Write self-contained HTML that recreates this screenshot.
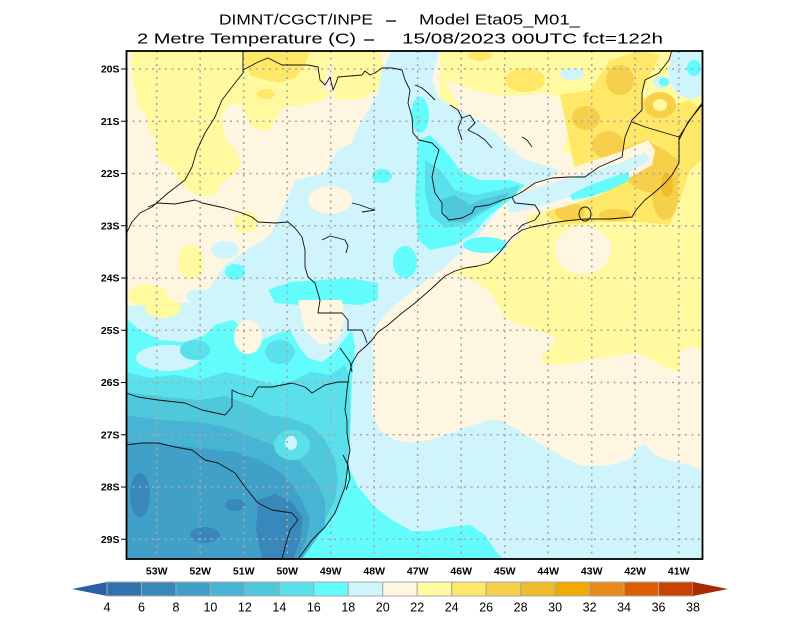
<!DOCTYPE html>
<html><head><meta charset="utf-8"><style>html,body{margin:0;padding:0;background:#fff}svg{display:block}</style></head>
<body>
<svg width="800" height="618" viewBox="0 0 800 618" xmlns="http://www.w3.org/2000/svg">
<rect width="800" height="618" fill="#fff"/>
<!-- Title -->
<g font-family="'Liberation Sans', sans-serif" font-size="15" fill="#000">
<text x="219" y="24.5" textLength="154" lengthAdjust="spacingAndGlyphs">DIMNT/CGCT/INPE</text>
<text x="419" y="24.5" textLength="161" lengthAdjust="spacingAndGlyphs">Model Eta05_M01_</text>
<text x="137" y="43.5" textLength="219" lengthAdjust="spacingAndGlyphs">2 Metre Temperature (C)</text>
<text x="402" y="43.5" textLength="261" lengthAdjust="spacingAndGlyphs">15/08/2023 00UTC fct=122h</text>
</g>
<line x1="386" y1="21" x2="396" y2="21" stroke="#000" stroke-width="1.3"/>
<line x1="364" y1="40" x2="374" y2="40" stroke="#000" stroke-width="1.3"/>

<defs><clipPath id="mc"><rect x="126.5" y="51" width="576" height="508"/></clipPath></defs>
<g clip-path="url(#mc)">
<rect x="120" y="45" width="590" height="520" fill="#fff6e2"/>
<!-- top-left light yellow -->
<polygon fill="#fffaa0" points="131.7,50 331.7,50 328.3,70 321.7,86.7 331.7,93.3 325,100 305,105 285,106.7 276.7,116.7 271.7,128.3 261.7,131.7 250,125 245,113.3 241.7,105 228.3,105 221.7,116.7 225,136.7 235,150 241.7,163.3 235,173.3 221.7,183.3 216.7,193.3 201.7,196.7 188.3,190 178.3,180 171.7,166.7 158.3,160 155,140 148.3,126.7 145,113.3 138.3,108.3 135,90 131.7,70"/>
<polygon fill="#fffaa0" points="331,51 380,51 385,70 378,90 360,100 335,100"/>
<ellipse cx="191" cy="262" rx="13" ry="18" fill="#fffaa0"/>
<ellipse cx="148" cy="296" rx="20" ry="12" fill="#fffaa0"/>
<ellipse cx="246" cy="222" rx="12" ry="11" fill="#fffaa0"/>
<polygon fill="#ffe868" points="243,51 310,51 305,65 295,78 280,83 265,80 250,75 245,65"/>
<ellipse cx="266" cy="94" rx="9" ry="5" fill="#ffe868"/>
<!-- top-right light yellow land + ocean -->
<polygon fill="#fffaa0" points="440,51 702,51 702,350 690,346 680,352 679,372 665,368 650,358 635,353 610,357 590,360 560,365 542,363 542,355 553,345 555,337 545,333 520,325 505,318 498,305 490,292 478,283 462,276 450,274 460,268 480,265 500,255 520,235 530,225 520,200 470,180 440,120"/>
<polygon fill="#fff6e2" points="445,80 472,90 505,97 545,93 565,100 569,133 562,150 579,160 599,163 612,157 599,170 569,177 545,173 522,160 499,140 462,113"/>
<ellipse cx="583" cy="250" rx="28" ry="24" fill="#fff6e2"/>
<ellipse cx="480" cy="55" rx="12" ry="6" fill="#ffe868"/>
<ellipse cx="525" cy="80" rx="20" ry="12" fill="#ffe868"/>
<polygon fill="#ffe868" points="560,95 590,90 610,60 640,51 660,55 650,75 640,95 660,110 690,100 702,110 702,160 690,170 680,200 670,225 640,222 600,222 560,225 545,215 550,200 580,190 610,178 640,162 650,150 630,150 605,165 575,170 570,145 565,120"/>
<ellipse cx="586" cy="118" rx="14" ry="12" fill="#f6d04a"/>
<ellipse cx="608" cy="145" rx="16" ry="14" fill="#f6d04a"/>
<polygon fill="#f6d04a" points="620,150 645,140 665,150 678,160 678,185 660,195 640,190 625,180"/>
<ellipse cx="665" cy="195" rx="13" ry="25" fill="#f6d04a"/>
<ellipse cx="570" cy="212" rx="15" ry="9" fill="#f6d04a"/>
<ellipse cx="615" cy="215" rx="16" ry="6" fill="#f6d04a"/>
<ellipse cx="620" cy="80" rx="14" ry="15" fill="#f6d04a"/>
<ellipse cx="660" cy="105" rx="16" ry="13" fill="#f6d04a"/>
<ellipse cx="660" cy="105" rx="7" ry="6" fill="#fffaa0"/>
<ellipse cx="667" cy="185" rx="6" ry="12" fill="#f0bc2c"/>
<!-- top-right light cyan blobs -->
<polygon fill="#d0f4fc" points="672,51 702,51 702,95 690,100 675,92 668,75"/>
<ellipse cx="662" cy="82" rx="9" ry="6" fill="#d0f4fc"/>
<ellipse cx="664" cy="82" rx="5" ry="4" fill="#62fcfc"/>
<ellipse cx="694" cy="68" rx="7" ry="8" fill="#62fcfc"/>
<ellipse cx="572" cy="74" rx="12" ry="6" fill="#d0f4fc"/>
<!-- valley -->
<polygon fill="#fff6e2" points="500,195 540,178 580,165 620,152 648,140 655,150 652,165 625,180 600,195 570,205 540,213 510,220"/>
<polygon fill="#d0f4fc" points="505,200 530,190 560,180 590,172 620,163 645,152 650,160 630,172 605,183 585,192 560,200 535,208 510,213"/>
<polygon fill="#62fcfc" points="570,195 590,185 610,178 628,172 630,180 610,190 590,197 572,200"/>
<!-- big light cyan -->
<polygon fill="#d0f4fc" points="392,51 440,51 436,63 432,80 438,97 455,108 475,118 495,132 510,148 525,160 552,167 560,172 545,180 522,188 505,200 495,215 485,228 475,240 460,253 445,267 425,282 410,293 395,305 383,318 374,330 372,350 375,365 373,380 372,395 372,415 380,430 395,440 412,443 430,440 450,433 470,426 490,420 500,420 515,428 530,438 548,448 565,458 580,465 595,466 610,465 630,459 638,446 645,445 655,455 668,460 690,465 702,470 702,559 126,559 126,306 168,304 190,302 205,295 215,280 225,265 240,255 255,245 270,235 282,210 288,197 295,180 325,173 332,160 338,150 352,143 358,127 378,93 382,70"/>
<ellipse cx="225" cy="250" rx="14" ry="9" fill="#d0f4fc"/>
<ellipse cx="200" cy="296" rx="14" ry="7" fill="#d0f4fc"/>
<ellipse cx="330" cy="200" rx="22" ry="14" fill="#fff6e2"/>
<ellipse cx="163" cy="308" rx="18" ry="10" fill="#fffaa0"/>
<!-- cyan patches north -->
<polygon fill="#62fcfc" points="268,290 290,282 320,280 350,278 378,283 378,300 360,305 330,303 300,305 275,303"/>
<ellipse cx="235" cy="272" rx="10" ry="8" fill="#62fcfc"/>
<ellipse cx="405" cy="262" rx="12" ry="16" fill="#62fcfc"/>
<ellipse cx="382" cy="176" rx="10" ry="7" fill="#62fcfc"/>
<ellipse cx="420" cy="115" rx="9" ry="18" fill="#62fcfc"/>
<polygon fill="#62fcfc" points="418,140 430,135 445,150 460,170 480,180 510,180 525,185 510,200 490,215 475,232 455,245 430,250 418,240 415,200"/>
<ellipse cx="485" cy="245" rx="22" ry="8" fill="#62fcfc"/>
<polygon fill="#5ae0ea" points="425,160 440,170 455,190 475,195 500,190 520,185 515,195 495,205 480,215 465,225 445,228 430,215 425,190"/>
<polygon fill="#50c8dc" points="440,200 455,195 470,205 480,200 500,195 510,193 500,203 480,212 465,222 448,222"/>
<!-- southern blues -->
<polygon fill="#62fcfc" points="126,318 140,330 160,340 185,342 205,335 215,325 232,320 248,330 262,340 278,333 290,330 298,345 308,358 322,362 335,352 345,338 352,330 355,345 352,380 350,440 345,460 358,487 375,507 392,520 412,531 430,531 450,527 470,525 485,535 495,550 503,559 126,559"/>
<ellipse cx="168" cy="358" rx="32" ry="13" fill="#d0f4fc"/>
<ellipse cx="248" cy="337" rx="14" ry="17" fill="#fff6e2"/>
<polygon fill="#fff6e2" points="298,300 342,300 345,320 338,340 320,345 305,330"/>
<ellipse cx="195" cy="350" rx="15" ry="10" fill="#5ae0ea"/>
<ellipse cx="280" cy="352" rx="15" ry="12" fill="#5ae0ea"/>
<polygon fill="#5ae0ea" points="126,372 150,378 175,375 200,380 225,372 250,378 275,385 295,380 310,372 330,375 345,365 350,380 350,440 348,470 345,490 338,510 325,528 312,545 302,559 126,559"/>
<polygon fill="#50c8dc" points="126,392 150,395 175,398 200,400 225,396 250,405 270,415 290,418 310,425 325,440 335,460 338,480 335,500 325,520 312,540 300,559 126,559"/>
<polygon fill="#48b4d4" points="126,415 160,420 200,422 230,428 255,438 280,448 300,462 315,480 325,500 325,525 312,545 302,559 126,559"/>
<polygon fill="#40a0c8" points="126,442 160,444 200,448 235,452 260,460 280,472 292,485 302,500 310,520 306,540 298,559 126,559"/>
<polygon fill="#3888bc" points="258,500 275,494 292,502 303,518 300,540 293,559 262,559 256,530"/>
<ellipse cx="140" cy="495" rx="10" ry="22" fill="#3888bc"/>
<ellipse cx="205" cy="535" rx="15" ry="8" fill="#3888bc"/>
<ellipse cx="235" cy="505" rx="10" ry="6" fill="#3888bc"/>
<ellipse cx="292" cy="445" rx="18" ry="15" fill="#5ae0ea"/>
<ellipse cx="291" cy="443" rx="6" ry="7" fill="#d0f4fc"/>

<!-- gridlines -->
<g stroke="#a8a8a8" stroke-width="1.6" stroke-dasharray="2 4.5" fill="none">
<path d="M156.7 51V559M200.2 51V559M243.7 51V559M287.2 51V559M330.7 51V559M374.2 51V559M417.7 51V559M461.2 51V559M504.7 51V559M548.2 51V559M591.7 51V559M635.2 51V559M678.7 51V559"/>
<path d="M126 69H702M126 121.25H702M126 173.5H702M126 225.75H702M126 278H702M126 330.25H702M126 382.5H702M126 434.75H702M126 487H702M126 539.25H702"/>
</g>

<!-- coast and borders -->
<g stroke="#111" stroke-width="0.9" fill="none" stroke-linejoin="round">
<polyline points="298,559 312,540 325,527 335,513 340,500 345,487 347,473 348,460 350,450 348,440 347,433 347,420 345,410 346,400 347,390 348,383 349,375 352,363 358,353 365,347 372,340 378,332 388,325 402,313 415,303 430,290 445,276 455,271 465,268 478,266 489,263 500,252 507,243 512,237 522,230 532,227 542,225 552,223 565,221 585,219 610,219 632,217 636,210 645,200 655,192 665,183 672,175 679,163 679,140 688,122 702,105"/>
<polyline points="243,51 243,73 235,83 222,100 215,117 205,133 197,150 192,167 185,180 168,193 152,207 140,213 132,222 127,232 126,240"/>
<polyline points="243,70 258,62 268,58 282,65 308,65 318,67 320,80 325,85 330,77 333,90 336,83 338,77 362,75 365,71 370,75 375,73 382,68 392,68 402,70 405,80 410,90 408,103 412,117 413,133 419,140 432,143 439,150 435,163 432,177 435,193 442,203 442,213 449,220 462,218 472,213 475,207 489,205 502,200 512,197 522,192 535,183 552,178 569,177 585,177 599,167 622,157 625,137 632,120 642,110 642,93 645,80 659,73 669,60 672,50"/>
<polyline points="632,122 645,127 679,137 692,117 702,103"/>
<polyline points="679,137 679,163"/>
<polyline points="512,197 515,203 535,205 540,213 535,220 522,225 518,230"/>
<polyline points="148,207 158,203 175,204 195,200 202,203 225,208 242,213 252,217 258,222 275,223 288,222 295,228 302,237 305,250 305,267 308,277 315,283 320,300 318,313 325,313 342,313 348,320 348,330 362,330 365,337 367,343"/>
<polyline points="126,393 138,397 158,400 185,403 202,410 225,415 232,407 232,390 238,393 252,397 258,387 272,387 292,383 305,387 312,393 325,385 338,382 348,382"/>
<polyline points="126,445 142,443 158,443 175,447 192,450 205,460 218,463 235,473 245,487 258,503 272,510 292,513 298,520 290,530 285,547 282,559"/>
<polyline points="450,105 458,110 462,118 470,115 475,123 468,130 478,135 485,140 492,148"/>
<polyline points="462,118 458,128 462,140"/>
<polyline points="415,85 422,88 428,93 435,100"/>
<polyline points="522,137 527,140 532,147"/>
<polyline points="352,203 360,205 368,208 375,210 362,212"/>
<polyline points="322,240 330,236 338,238 345,240 348,246 346,253"/>
<ellipse cx="585" cy="214" rx="6" ry="7"/>
<polyline points="340,348 345,355 350,362 352,372"/>
<polyline points="343,455 348,465 350,478 346,490"/>
</g>
</g>
<!-- frame -->
<rect x="126.5" y="51" width="576" height="508" fill="none" stroke="#000" stroke-width="1.8"/>
<!-- left ticks -->
<path d="M121 69H126M121 121.25H126M121 173.5H126M121 225.75H126M121 278H126M121 330.25H126M121 382.5H126M121 434.75H126M121 487H126M121 539.25H126" stroke="#000" stroke-width="1"/>
<g font-family="'Liberation Sans', sans-serif" font-size="10.5" font-weight="bold" fill="#000" text-anchor="end">
<text x="119.5" y="72.7">20S</text>
<text x="119.5" y="124.9">21S</text>
<text x="119.5" y="177.2">22S</text>
<text x="119.5" y="229.4">23S</text>
<text x="119.5" y="281.7">24S</text>
<text x="119.5" y="333.9">25S</text>
<text x="119.5" y="386.2">26S</text>
<text x="119.5" y="438.4">27S</text>
<text x="119.5" y="490.7">28S</text>
<text x="119.5" y="542.9">29S</text>
</g>
<g font-family="'Liberation Sans', sans-serif" font-size="10.5" font-weight="bold" fill="#000" text-anchor="middle">
<text x="156.7" y="574.5">53W</text>
<text x="200.2" y="574.5">52W</text>
<text x="243.7" y="574.5">51W</text>
<text x="287.2" y="574.5">50W</text>
<text x="330.7" y="574.5">49W</text>
<text x="374.2" y="574.5">48W</text>
<text x="417.7" y="574.5">47W</text>
<text x="461.2" y="574.5">46W</text>
<text x="504.7" y="574.5">45W</text>
<text x="548.2" y="574.5">44W</text>
<text x="591.7" y="574.5">43W</text>
<text x="635.2" y="574.5">42W</text>
<text x="678.7" y="574.5">41W</text>
</g>
<!-- colorbar -->
<g stroke="#a8a8a8" stroke-width="1">
<polygon points="72,589 107,582 107,596" fill="#2a5ea5" stroke="none"/>
<rect x="107" y="582" width="34.47" height="14" fill="#2e72ae"/>
<rect x="141.47" y="582" width="34.47" height="14" fill="#3888bc"/>
<rect x="175.94" y="582" width="34.47" height="14" fill="#40a0c8"/>
<rect x="210.41" y="582" width="34.47" height="14" fill="#48b4d4"/>
<rect x="244.88" y="582" width="34.47" height="14" fill="#50c8dc"/>
<rect x="279.35" y="582" width="34.47" height="14" fill="#5ae0ea"/>
<rect x="313.82" y="582" width="34.47" height="14" fill="#62fcfc"/>
<rect x="348.29" y="582" width="34.47" height="14" fill="#d0f4fc"/>
<rect x="382.76" y="582" width="34.47" height="14" fill="#fff6e2"/>
<rect x="417.23" y="582" width="34.47" height="14" fill="#fffaa0"/>
<rect x="451.7" y="582" width="34.47" height="14" fill="#ffe868"/>
<rect x="486.17" y="582" width="34.47" height="14" fill="#f6d04a"/>
<rect x="520.64" y="582" width="34.47" height="14" fill="#f0bc2c"/>
<rect x="555.11" y="582" width="34.47" height="14" fill="#f2aa00"/>
<rect x="589.58" y="582" width="34.47" height="14" fill="#e88a1a"/>
<rect x="624.05" y="582" width="34.47" height="14" fill="#dc5e00"/>
<rect x="658.52" y="582" width="34.47" height="14" fill="#c84200"/>
<polygon points="693,582 693,596 728,589" fill="#a82c00" stroke="none"/>
</g>
<g font-family="'Liberation Sans', sans-serif" font-size="12.5" fill="#000" text-anchor="middle">
<text x="107" y="611.5">4</text>
<text x="141.47" y="611.5">6</text>
<text x="175.94" y="611.5">8</text>
<text x="210.41" y="611.5">10</text>
<text x="244.88" y="611.5">12</text>
<text x="279.35" y="611.5">14</text>
<text x="313.82" y="611.5">16</text>
<text x="348.29" y="611.5">18</text>
<text x="382.76" y="611.5">20</text>
<text x="417.23" y="611.5">22</text>
<text x="451.7" y="611.5">24</text>
<text x="486.17" y="611.5">26</text>
<text x="520.64" y="611.5">28</text>
<text x="555.11" y="611.5">30</text>
<text x="589.58" y="611.5">32</text>
<text x="624.05" y="611.5">34</text>
<text x="658.52" y="611.5">36</text>
<text x="692.99" y="611.5">38</text>
</g>
</svg>
</body></html>
